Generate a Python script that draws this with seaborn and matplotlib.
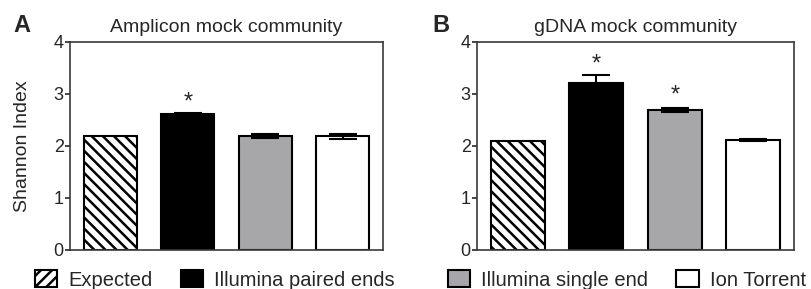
import numpy as np
import pandas as pd
import matplotlib.pyplot as plt
import seaborn as sns
from matplotlib.patches import Patch

# bar categories and colours
methods = ['Expected', 'Illumina paired ends', 'Illumina single end', 'Ion Torrent']
colors = ['white', 'black', '#a6a6aa', 'white']

# panel A - amplicon mock community
amplicon_mean = [2.20, 2.61, 2.20, 2.19]
amplicon_err = [0.0, 0.02, 0.04, 0.05]
amplicon_star = [None, 2.73, None, None]

# panel B - gDNA mock community
gdna_mean = [2.09, 3.22, 2.69, 2.11]
gdna_err = [0.0, 0.15, 0.04, 0.02]
gdna_star = [None, 3.46, 2.85, None]

yticks = [0, 1, 2, 3, 4]

panels = [
    ('A', 'Amplicon mock community', amplicon_mean, amplicon_err, amplicon_star),
    ('B', 'gDNA mock community', gdna_mean, gdna_err, gdna_star),
]

sns.set_style('ticks')
plt.rcParams['font.family'] = ['Liberation Sans', 'DejaVu Sans']
plt.rcParams['hatch.linewidth'] = 1.8

fig = plt.figure(figsize=(8.12, 2.89), dpi=100)
ax_pos = [[70 / 812, 39 / 289, 313 / 812, 208 / 289],
          [477 / 812, 39 / 289, 317 / 812, 208 / 289]]
letter_x = [13 / 812, 432 / 812]

palette = dict(zip(methods, colors))

for k, (letter, title, mean, err, stars) in enumerate(panels):
    ax = fig.add_axes(ax_pos[k])
    df = pd.DataFrame({'method': methods, 'shannon': mean})
    sns.barplot(data=df, x='method', y='shannon', hue='method', order=methods,
                palette=palette, width=0.69, edgecolor='black', linewidth=1.5,
                legend=False, ax=ax, zorder=2)
    ax.patches[0].set_hatch('\\\\\\')

    xs = np.arange(len(methods))
    ax.errorbar(xs[1:], mean[1:], yerr=err[1:], fmt='none', ecolor='black',
                elinewidth=1.5, capsize=10, capthick=1.5, zorder=3)

    for i, s in enumerate(stars):
        if s is not None:
            ax.text(i, s, '*', ha='center', va='baseline', fontsize=17)

    ax.set_ylim(0, 4)
    ax.set_xlim(-0.52, 3.52)
    ax.set_yticks(yticks)
    ax.set_xticks([])
    ax.set_xlabel('')
    if letter == 'A':
        ax.set_ylabel('Shannon Index', fontsize=14)
        ax.yaxis.set_label_coords(-0.125, 0.5)
    else:
        ax.set_ylabel('')
    ax.tick_params(axis='y', direction='out', length=3.5, width=1.2,
                   labelsize=13, pad=1)
    for sp in ax.spines.values():
        sp.set_visible(True)
        sp.set_color('#3a3a3a')
        sp.set_linewidth(1.2)
    ax.set_title(title, fontsize=14, pad=7)
    fig.text(letter_x[k], 1 - 32 / 289, letter, fontsize=17,
             fontweight='bold', va='baseline')

handles = [Patch(facecolor=c, edgecolor='black', linewidth=1.5) for c in colors]
handles[0] = Patch(facecolor='white', edgecolor='black', hatch='///', linewidth=1.5)

leg_kw = dict(loc='center left', ncol=2, frameon=False, fontsize=14.5,
              borderpad=0, borderaxespad=0, handlelength=1.1,
              handleheight=0.85, handletextpad=0.55, columnspacing=1.4)
fig.legend(handles[:2], methods[:2], bbox_to_anchor=(35 / 812, 1 - 280 / 289), **leg_kw)
fig.legend(handles[2:], methods[2:], bbox_to_anchor=(448 / 812, 1 - 280 / 289), **leg_kw)

fig.savefig('out.png', dpi=100)
